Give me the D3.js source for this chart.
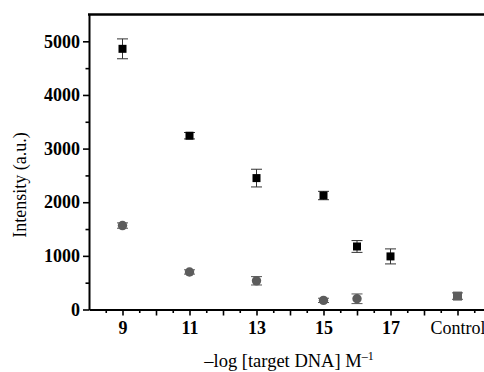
<!DOCTYPE html>
<html lang="en">
  <meta charset="UTF-8" />
  <title>Intensity vs target DNA</title>
  <style>
    body { margin: 0; background: #fff; }
  </style>
  <script src="https://d3js.org/d3.v7.min.js"></script>
  <body>
    <div id="chart"></div>
    <script>
      // black squares (target series)
      var sqX = [9, 11, 13, 15, 16, 17];
      var sqVals = [4860, 3240, 2450, 2125, 1175, 990];
      var sqErr = [185, 60, 165, 78, 110, 140];
      // grey circles
      var circX = [9, 11, 13, 15, 16];
      var circVals = [1565, 700, 535, 170, 200];
      var circErr = [50, 40, 78, 40, 90];
      // control point
      var ctrlX = [19];
      var ctrlVals = [250];
      var ctrlErr = [60];
      // tick labels
      var xLabels = { 9: "9", 11: "11", 13: "13", 15: "15", 17: "17", 19: "Control" };
      var yTicks = [0, 1000, 2000, 3000, 4000, 5000];
      var yMinor = [500, 1500, 2500, 3500, 4500];

      var width = 484,
        height = 372;
      var plotLeft = 89,
        plotTop = 14.5,
        plotBottom = 309.5;

      var svg = d3
        .select("#chart")
        .append("svg")
        .attr("width", width)
        .attr("height", height)
        .style("display", "block")
        .style("font-family", "'Liberation Serif', 'Times New Roman', serif");

      var x = d3.scaleLinear().domain([8, 20]).range([plotLeft, plotLeft + 12 * 33.5]);
      var y = d3.scaleLinear().domain([0, 5500]).range([plotBottom, plotTop]);

      // top border
      svg
        .append("line")
        .attr("x1", plotLeft - 1)
        .attr("x2", width)
        .attr("y1", y(5500))
        .attr("y2", y(5500))
        .attr("stroke", "#000")
        .attr("stroke-width", 2.5);

      // x axis, minor then major
      var xMinorTicks = d3.range(8.5, 20, 1);
      var xMajorTicks = d3.range(9, 20, 1);
      svg
        .append("g")
        .attr("transform", "translate(0," + plotBottom + ")")
        .call(d3.axisBottom(x).tickValues(xMinorTicks).tickSize(3.5).tickFormat(""))
        .call((g) => g.select(".domain").remove())
        .selectAll("line")
        .attr("stroke-width", 1.6);
      var xAxis = svg
        .append("g")
        .attr("transform", "translate(0," + plotBottom + ")")
        .call(
          d3
            .axisBottom(x)
            .tickValues(xMajorTicks)
            .tickSize(6)
            .tickSizeOuter(0)
            .tickPadding(6)
            .tickFormat((d) => xLabels[d] || "")
        );
      xAxis.select(".domain").attr("stroke-width", 2);
      xAxis.selectAll("line").attr("stroke-width", 1.6);
      xAxis
        .selectAll("text")
        .attr("font-size", 18)
        .attr("font-family", "'Liberation Serif', serif")
        .attr("font-weight", (d) => (d == 19 ? "normal" : "bold"))
        .attr("fill", "#000");

      // y axis
      svg
        .append("g")
        .attr("transform", "translate(" + plotLeft + ",0)")
        .call(d3.axisLeft(y).tickValues(yMinor).tickSize(3.5).tickFormat(""))
        .call((g) => g.select(".domain").remove())
        .selectAll("line")
        .attr("stroke-width", 1.6);
      var yAxis = svg
        .append("g")
        .attr("transform", "translate(" + plotLeft + ",0)")
        .call(d3.axisLeft(y).tickValues(yTicks).tickSize(6).tickSizeOuter(0).tickPadding(3).tickFormat(d3.format("d")));
      yAxis.select(".domain").attr("stroke-width", 2);
      yAxis.selectAll("line").attr("stroke-width", 1.6);
      yAxis
        .selectAll("text")
        .attr("font-size", 18)
        .attr("font-family", "'Liberation Serif', serif")
        .attr("font-weight", "bold")
        .attr("fill", "#000");

      // error bars helper
      function errorBars(xs, vals, errs, color) {
        var g = svg.append("g").attr("stroke", color).attr("stroke-width", 1);
        xs.forEach(function (d, i) {
          var cx = x(d);
          var y0 = y(vals[i] - errs[i]);
          var y1 = y(vals[i] + errs[i]);
          g.append("line").attr("x1", cx).attr("x2", cx).attr("y1", y0).attr("y2", y1);
          g.append("line").attr("x1", cx - 5.5).attr("x2", cx + 5.5).attr("y1", y0).attr("y2", y0);
          g.append("line").attr("x1", cx - 5.5).attr("x2", cx + 5.5).attr("y1", y1).attr("y2", y1);
        });
      }

      errorBars(sqX, sqVals, sqErr, "#333");
      errorBars(circX, circVals, circErr, "#555");
      errorBars(ctrlX, ctrlVals, ctrlErr, "#555");

      // squares
      svg
        .append("g")
        .selectAll("rect")
        .data(sqX)
        .enter()
        .append("rect")
        .attr("x", (d) => x(d) - 4)
        .attr("y", (d, i) => y(sqVals[i]) - 4)
        .attr("width", 8)
        .attr("height", 8)
        .attr("fill", "#000");

      // circles
      svg
        .append("g")
        .selectAll("circle")
        .data(circX)
        .enter()
        .append("circle")
        .attr("cx", (d) => x(d))
        .attr("cy", (d, i) => y(circVals[i]))
        .attr("r", 4.7)
        .attr("fill", "#5c5c5c");

      // control
      svg
        .append("g")
        .selectAll("rect")
        .data(ctrlX)
        .enter()
        .append("rect")
        .attr("x", (d) => x(d) - 4.5)
        .attr("y", (d, i) => y(ctrlVals[i]) - 4.5)
        .attr("width", 9)
        .attr("height", 9)
        .attr("fill", "#5e5e5e");

      // axis titles
      svg
        .append("text")
        .attr("transform", "translate(20,185) rotate(-90)")
        .attr("text-anchor", "middle")
        .attr("dy", "0.35em")
        .attr("font-size", 18)
        .text("Intensity (a.u.)");

      var xt = svg
        .append("text")
        .attr("x", 289)
        .attr("y", 367)
        .attr("text-anchor", "middle")
        .attr("font-size", 18.5);
      xt.append("tspan").text("\u2013log [target DNA] M");
      xt.append("tspan").attr("font-size", 12).attr("dy", -7).text("\u20131");
    </script>
  </body>
</html>
